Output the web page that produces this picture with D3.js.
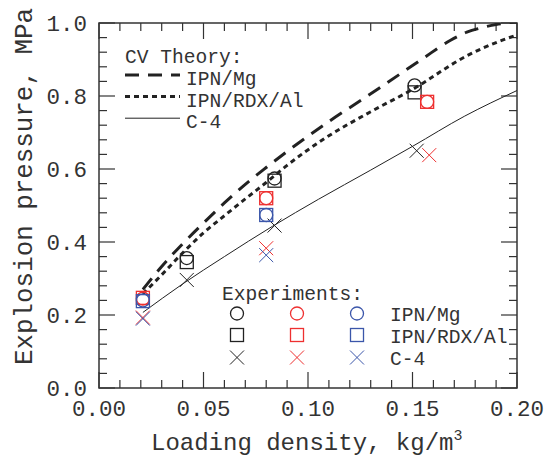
<!DOCTYPE html>
<html>
<head>
<meta charset="utf-8">
<script src="https://cdn.jsdelivr.net/npm/d3@7"></script>
<style>
  body { margin: 0; background: #fff; }
  text { font-family: "Courier New", "Liberation Mono", monospace; fill: #333; }
</style>
</head>
<body>
<div id="chart"></div>
<script>
var width = 545,
    height = 457,
    margin = {top: 23, right: 28, bottom: 69, left: 99},
    w = width - margin.left - margin.right,
    h = height - margin.top - margin.bottom;

// CV theory curves (loading density kg/m3, pressure MPa)
var mgX  = [0.021, 0.030, 0.040, 0.050, 0.060, 0.070, 0.080, 0.090, 0.110, 0.134, 0.155, 0.168, 0.176, 0.183, 0.190, 0.200];
var mgY  = [0.270, 0.333, 0.395, 0.452, 0.507, 0.558, 0.604, 0.648, 0.730, 0.821, 0.903, 0.952, 0.975, 0.987, 0.996, 1.003];
var rdxX = [0.021, 0.030, 0.040, 0.050, 0.060, 0.070, 0.080, 0.090, 0.107, 0.130, 0.150, 0.176, 0.193, 0.200];
var rdxY = [0.258, 0.310, 0.370, 0.425, 0.472, 0.518, 0.563, 0.610, 0.680, 0.757, 0.818, 0.910, 0.953, 0.967];
var c4X  = [0.021, 0.040, 0.060, 0.083, 0.105, 0.130, 0.150, 0.175, 0.200];
var c4Y  = [0.207, 0.285, 0.360, 0.443, 0.517, 0.597, 0.662, 0.745, 0.815];

// experiments
var blackCircleX = [0.042, 0.084, 0.151], blackCircleY = [0.356, 0.574, 0.829];
var blackSquareX = [0.042, 0.084, 0.151], blackSquareY = [0.345, 0.568, 0.810];
var blackCrossX  = [0.042, 0.084, 0.152], blackCrossY  = [0.296, 0.445, 0.650];
var redCircleX   = [0.021, 0.080, 0.157], redCircleY   = [0.245, 0.520, 0.784];
var redSquareX   = [0.021, 0.080, 0.157], redSquareY   = [0.247, 0.520, 0.784];
var redCrossX    = [0.021, 0.080, 0.158], redCrossY    = [0.193, 0.383, 0.638];
var blueCircleX  = [0.021, 0.080], blueCircleY = [0.240, 0.474];
var blueSquareX  = [0.021, 0.080], blueSquareY = [0.238, 0.474];
var blueCrossX   = [0.021, 0.080], blueCrossY  = [0.190, 0.364];

var xTicks = [0, 0.05, 0.10, 0.15, 0.20];
var yTicks = [0, 0.2, 0.4, 0.6, 0.8, 1.0];

var black = "#222", red = "#ee3030", blue = "#3b56aa";

var svg = d3.select("#chart").append("svg")
  .attr("width", width)
  .attr("height", height);

var g = svg.append("g")
  .attr("transform", "translate(" + margin.left + "," + margin.top + ")");

var x = d3.scaleLinear().domain([0, 0.2]).range([0, w]);
var y = d3.scaleLinear().domain([0, 1.0]).range([h, 0]);

g.append("clipPath").attr("id", "clip")
  .append("rect").attr("width", w).attr("height", h);

// inward ticks on all four sides
var minorX = d3.range(0, 0.2001, 0.01),
    minorY = d3.range(0, 1.0001, 0.04);

function isMajor(v, step) { return Math.abs(v / step - Math.round(v / step)) < 1e-6; }

var ticks = g.append("g").attr("stroke", "#333").attr("stroke-width", 1.2);
minorX.forEach(function(v) {
  var len = isMajor(v, 0.05) ? 16 : 8;
  ticks.append("line").attr("x1", x(v)).attr("x2", x(v)).attr("y1", h).attr("y2", h - len);
  ticks.append("line").attr("x1", x(v)).attr("x2", x(v)).attr("y1", 0).attr("y2", len);
});
minorY.forEach(function(v) {
  var len = isMajor(v, 0.2) ? 16 : 8;
  ticks.append("line").attr("y1", y(v)).attr("y2", y(v)).attr("x1", 0).attr("x2", len);
  ticks.append("line").attr("y1", y(v)).attr("y2", y(v)).attr("x1", w).attr("x2", w - len);
});

g.append("rect")
  .attr("width", w).attr("height", h)
  .attr("fill", "none").attr("stroke", "#333").attr("stroke-width", 1.5);

// tick labels
g.selectAll(".xl").data(xTicks).enter().append("text")
  .attr("x", function(d) { return x(d); })
  .attr("y", h + 28)
  .attr("text-anchor", "middle")
  .style("font-size", "22.5px")
  .text(d3.format(".2f"));

g.selectAll(".yl").data(yTicks).enter().append("text")
  .attr("x", -12)
  .attr("y", function(d) { return y(d); })
  .attr("dy", "0.35em")
  .attr("text-anchor", "end")
  .style("font-size", "22.5px")
  .text(d3.format(".1f"));

// axis titles
var xt = svg.append("text")
  .attr("x", 151).attr("y", 450)
  .style("font-size", "24px")
  .text("Loading density, kg/m");
xt.append("tspan").attr("dy", -10).style("font-size", "15px").text("3");

svg.append("text")
  .attr("transform", "translate(32,365) rotate(-90)")
  .attr("textLength", 357)
  .attr("lengthAdjust", "spacingAndGlyphs")
  .style("font-size", "25.5px")
  .text("Explosion pressure, MPa");

// theory curves
var line = d3.line()
  .x(function(d) { return x(d[0]); })
  .y(function(d) { return y(d[1]); })
  .curve(d3.curveMonotoneX);

var curves = [
  {xs: mgX, ys: mgY, dash: "14,9", sw: 3},
  {xs: rdxX, ys: rdxY, dash: "5,4", sw: 3},
  {xs: c4X, ys: c4Y, dash: null, sw: 1}
];

var plot = g.append("g").attr("clip-path", "url(#clip)");

curves.forEach(function(c) {
  plot.append("path")
    .datum(d3.zip(c.xs, c.ys))
    .attr("d", line)
    .attr("fill", "none")
    .attr("stroke", "#222")
    .attr("stroke-width", c.sw)
    .attr("stroke-dasharray", c.dash);
});

// markers
function drawMarkers(xs, ys, shape, color) {
  var pts = d3.zip(xs, ys);
  var sel = g.selectAll(null).data(pts).enter();
  if (shape === "circle") {
    sel.append("circle")
      .attr("cx", function(d) { return x(d[0]); })
      .attr("cy", function(d) { return y(d[1]); })
      .attr("r", 6.5)
      .attr("fill", "none").attr("stroke", color).attr("stroke-width", 1.3);
  } else if (shape === "square") {
    sel.append("rect")
      .attr("x", function(d) { return x(d[0]) - 6.5; })
      .attr("y", function(d) { return y(d[1]) - 6.5; })
      .attr("width", 13).attr("height", 13)
      .attr("fill", "none").attr("stroke", color).attr("stroke-width", 1.3);
  } else {
    sel.append("path")
      .attr("transform", function(d) { return "translate(" + x(d[0]) + "," + y(d[1]) + ")"; })
      .attr("d", "M-7,-7L7,7M-7,7L7,-7")
      .attr("fill", "none").attr("stroke", color).attr("stroke-width", 1);
  }
}

drawMarkers(blackCircleX, blackCircleY, "circle", black);
drawMarkers(blackSquareX, blackSquareY, "square", black);
drawMarkers(blackCrossX, blackCrossY, "cross", black);
drawMarkers(redCircleX, redCircleY, "circle", red);
drawMarkers(redSquareX, redSquareY, "square", red);
drawMarkers(redCrossX, redCrossY, "cross", red);
drawMarkers(blueCircleX, blueCircleY, "circle", blue);
drawMarkers(blueSquareX, blueSquareY, "square", blue);
drawMarkers(blueCrossX, blueCrossY, "cross", blue);

// legend: CV theory
var theoryNames = ["IPN/Mg", "IPN/RDX/Al", "C-4"];
svg.append("text").attr("x", 125).attr("y", 63)
  .style("font-size", "19.6px").text("CV Theory:");
theoryNames.forEach(function(name, i) {
  var ly = 75 + i * 21.6;
  svg.append("line")
    .attr("x1", 125).attr("x2", 180).attr("y1", ly).attr("y2", ly)
    .attr("stroke", "#222").attr("stroke-width", curves[i].sw)
    .attr("stroke-dasharray", curves[i].dash);
  svg.append("text").attr("x", 186).attr("y", ly + 10)
    .style("font-size", "19.6px").text(name);
});

// legend: experiments
svg.append("text").attr("x", 222).attr("y", 300)
  .style("font-size", "19.6px").text("Experiments:");
var cols = [237, 297, 357], colColors = [black, red, blue];
var rowsY = [313.5, 335, 357.5];
var legShapes = ["circle", "square", "cross"];
legShapes.forEach(function(shape, r) {
  cols.forEach(function(cx, c) {
    var col = colColors[c], cy = rowsY[r];
    if (shape === "circle") {
      svg.append("circle").attr("cx", cx).attr("cy", cy).attr("r", 6.5)
        .attr("fill", "none").attr("stroke", col).attr("stroke-width", 1.3);
    } else if (shape === "square") {
      svg.append("rect").attr("x", cx - 6.5).attr("y", cy - 6.5).attr("width", 13).attr("height", 13)
        .attr("fill", "none").attr("stroke", col).attr("stroke-width", 1.3);
    } else {
      svg.append("path").attr("transform", "translate(" + cx + "," + cy + ")")
        .attr("d", "M-7,-7L7,7M-7,7L7,-7")
        .attr("fill", "none").attr("stroke", col).attr("stroke-width", 1);
    }
  });
  svg.append("text").attr("x", 390).attr("y", rowsY[r] + 7.5)
    .style("font-size", "19.6px").text(theoryNames[r]);
});
</script>
</body>
</html>
